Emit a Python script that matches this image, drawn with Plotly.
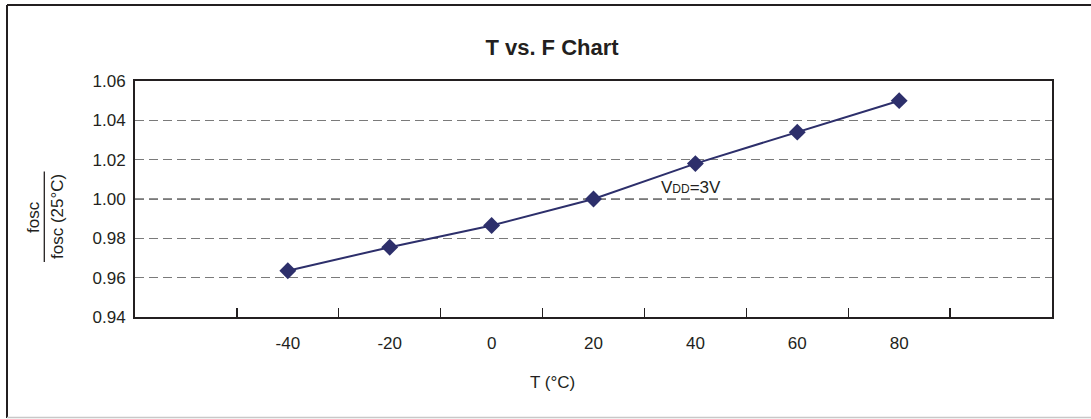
import plotly.graph_objects as go

# ---- data ----
temperature_c = [-40, -20, 0, 20, 40, 60, 80]
fosc_ratio = [0.9635, 0.9755, 0.9865, 1.000, 1.018, 1.034, 1.050]

x_tick_vals = [-40, -20, 0, 20, 40, 60, 80]
x_tick_text = ["-40", "-20", "0", "20", "40", "60", "80"]
x_minor_ticks = [-50, -30, -10, 10, 30, 50, 70, 90]
y_tick_vals = [0.94, 0.96, 0.98, 1.00, 1.02, 1.04, 1.06]
y_tick_text = ["0.94", "0.96", "0.98", "1.00", "1.02", "1.04", "1.06"]

title_text = "<b>T vs. F Chart</b>"
x_title = "T (°C)"
y_title_top = "fosc"
y_title_bottom = "fosc (25°C)"
series_label = "V<span style='font-size:12px'>DD</span>=3V"

FONT = "Liberation Sans, Arial, sans-serif"
TXT = "#231f20"
NAVY = "#2d2f6b"

W, H = 1091, 419
L, R, T, B = 135, 1091 - 1052, 81, 419 - 317
PW, PH = W - L - R, H - T - B


def px(xp):
    return (xp - L) / PW


def py(yp):
    return 1 - (yp - T) / PH


fig = go.Figure()
fig.add_trace(go.Scatter(
    x=temperature_c, y=fosc_ratio, mode="lines+markers",
    line=dict(color=NAVY, width=2),
    marker=dict(symbol="diamond", size=13, color=NAVY),
    showlegend=False, hoverinfo="skip",
))

fig.update_layout(
    width=W, height=H,
    margin=dict(l=L, r=R, t=T, b=B),
    paper_bgcolor="white", plot_bgcolor="white",
    font=dict(family=FONT, size=17, color=TXT),
    title=dict(text=title_text, x=552 / W, xref="container", xanchor="center",
               y=1 - 47 / H, yref="container", yanchor="middle",
               font=dict(family=FONT, size=22, color=TXT)),
    xaxis=dict(
        range=[-70, 110], tickmode="array", tickvals=x_tick_vals, ticktext=x_tick_text,
        ticks="", showgrid=False, zeroline=False,
        showline=True, linecolor="#231f20", linewidth=2, mirror=True,
        ticklabelstandoff=10,
        minor=dict(tickmode="array", tickvals=x_minor_ticks, ticks="inside",
                   ticklen=9, tickcolor="#231f20", tickwidth=1.3, showgrid=False),
        fixedrange=True,
    ),
    yaxis=dict(
        range=[0.94, 1.06], tickmode="array", tickvals=y_tick_vals, ticktext=y_tick_text,
        ticks="", showgrid=True, gridcolor="#7a7a7a", gridwidth=1, griddash="9px,5px",
        zeroline=False, showline=True, linecolor="#231f20", linewidth=2, mirror=True,
        ticklabelstandoff=4, fixedrange=True,
    ),
)

# darker reference gridline at 1.00
fig.add_shape(type="line", xref="paper", yref="y", x0=0, x1=1, y0=1.00, y1=1.00,
              line=dict(color="#222222", width=1, dash="9px,5px"), layer="below")

# outer chart frame
fig.add_shape(type="line", xref="paper", yref="paper", x0=px(7), x1=px(1095),
              y0=py(5), y1=py(5), line=dict(color="#231f20", width=2))
fig.add_shape(type="line", xref="paper", yref="paper", x0=px(7), x1=px(7),
              y0=py(5), y1=py(418), line=dict(color="#231f20", width=2))
fig.add_shape(type="line", xref="paper", yref="paper", x0=px(7), x1=px(1095),
              y0=py(417.5), y1=py(417.5), line=dict(color="#c8c8c8", width=1.5))

# x axis title
fig.add_annotation(text=x_title, xref="paper", yref="paper", x=px(552.5), y=py(382.5),
                   showarrow=False, xanchor="center", yanchor="middle",
                   font=dict(family=FONT, size=17, color=TXT))

# y axis title as fraction
fig.add_annotation(text=y_title_top, xref="paper", yref="paper", x=px(33), y=py(217),
                   showarrow=False, textangle=-90, xanchor="center", yanchor="middle",
                   font=dict(family=FONT, size=17, color=TXT))
fig.add_annotation(text=y_title_bottom, xref="paper", yref="paper", x=px(57), y=py(217),
                   showarrow=False, textangle=-90, xanchor="center", yanchor="middle",
                   font=dict(family=FONT, size=17, color=TXT))
fig.add_shape(type="line", xref="paper", yref="paper", x0=px(44.3), x1=px(44.3),
              y0=py(171.5), y1=py(262), line=dict(color=TXT, width=1.3))

# series label
fig.add_annotation(text=series_label, xref="paper", yref="paper", x=px(691), y=py(187),
                   showarrow=False, xanchor="center", yanchor="middle",
                   font=dict(family=FONT, size=17, color=TXT))

fig.write_html("out.html",
               config={"displayModeBar": False, "staticPlot": True},
               post_script="document.body.style.margin='0px';document.body.style.overflow='hidden';")
